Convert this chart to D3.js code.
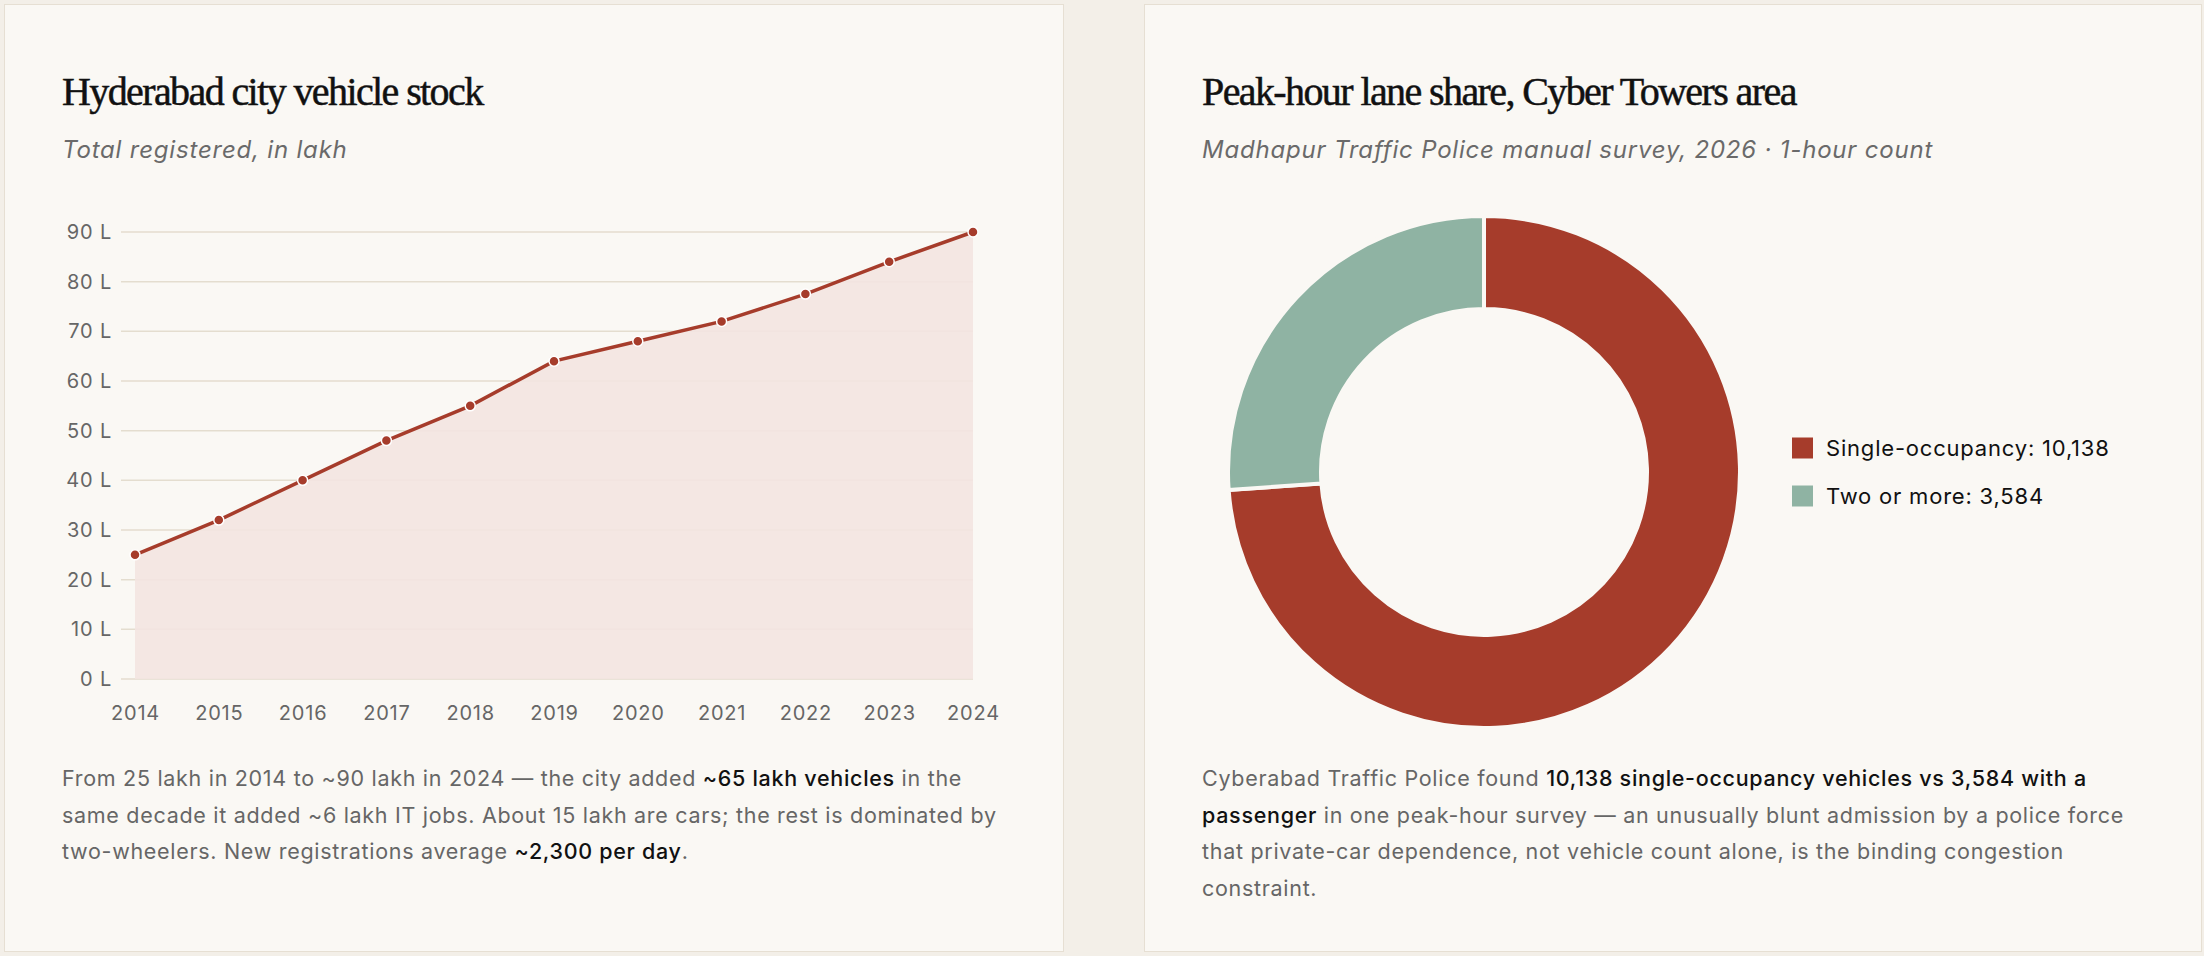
<!DOCTYPE html>
<html lang="en">
<head>
<meta charset="UTF-8">
<script src="https://d3js.org/d3.v7.min.js"></script>
<title>Hyderabad traffic</title>
<style>
    body { margin: 0; background: #f3efe8; font-family: Inter, "Noto Sans", sans-serif; }
    #page { position: relative; width: 2204px; height: 956px; }
    .card { position: absolute; top: 4px; height: 948px; background: #faf8f4; border: 1.5px solid #e6dfd3; box-sizing: border-box; }
    .note { position: absolute; font-size: 21.5px; line-height: 36.5px; color: #666; letter-spacing: 0.7px; }
    .note b { font-weight: 500; color: #111; }
    svg { position: absolute; left: 0; top: 0; }
</style>
</head>
<body>
<div id="page">
    <div class="card" style="left:4px;width:1060px"></div>
    <div class="card" style="left:1144px;width:1058px"></div>
    <svg id="chart" width="2204" height="956"></svg>
    <div class="note" style="left:62px;top:760px;width:950px">From 25 lakh in 2014 to ~90 lakh in 2024 — the city added <b>~65 lakh vehicles</b> in the same decade it added ~6 lakh IT jobs. About 15 lakh are cars; the rest is dominated by two-wheelers. New registrations average <b>~2,300 per day</b>.</div>
    <div class="note" style="left:1202px;top:760px;width:955px">Cyberabad Traffic Police found <b>10,138 single-occupancy vehicles vs 3,584 with a passenger</b> in one peak-hour survey — an unusually blunt admission by a police force that private-car dependence, not vehicle count alone, is the binding congestion constraint.</div>
</div>
<script>
    // vehicle stock, lakh
    var years = [2014, 2015, 2016, 2017, 2018, 2019, 2020, 2021, 2022, 2023, 2024]
    var stock = [25, 32, 40, 48, 55, 64, 68, 72, 77.5, 84, 90]
    var yTicks = [0, 10, 20, 30, 40, 50, 60, 70, 80, 90]

    // lane share survey
    var laneLabels = ["Single-occupancy", "Two or more"]
    var laneCounts = [10138, 3584]
    var laneColors = ["#a63c2b", "#8fb3a3"]

    var red = "#a63c2b"
    var svg = d3.select("#chart")

    function heading(x, title, sub) {
        svg.append("text").attr("x", x).attr("y", 105)
            .attr("font-family", "'Liberation Serif', serif").attr("font-size", 40)
            .attr("letter-spacing", -1.6).attr("fill", "#111")
            .attr("stroke", "#111").attr("stroke-width", 0.5).text(title)
        svg.append("text").attr("x", x).attr("y", 158)
            .attr("font-size", 24).attr("font-style", "italic").attr("letter-spacing", 0.8)
            .attr("fill", "#6a6a6a").text(sub)
    }

    heading(62, "Hyderabad city vehicle stock", "Total registered, in lakh")
    heading(1202, "Peak-hour lane share, Cyber Towers area", "Madhapur Traffic Police manual survey, 2026 \u00b7 1-hour count")

    // line chart
    var data = years.map((y, i) => ({ year: y, value: stock[i] }))
    var x = d3.scaleLinear().domain([2014, 2024]).range([135, 973])
    var y = d3.scaleLinear().domain([0, 90]).range([679, 232])

    svg.append("g").selectAll("line").data(yTicks).join("line")
        .attr("x1", 121).attr("x2", 973)
        .attr("y1", d => y(d)).attr("y2", d => y(d))
        .attr("stroke", "#e4ddcf").attr("stroke-width", 1.5)

    svg.append("g").attr("transform", "translate(121,0)")
        .call(d3.axisLeft(y).tickValues(yTicks).tickFormat(d => d + " L").tickSize(0).tickPadding(9))
        .call(g => g.select(".domain").remove())
        .call(g => g.selectAll("text").attr("font-size", 20).attr("letter-spacing", 0.8).attr("fill", "#666").attr("font-family", "Inter"))

    svg.append("g").attr("transform", "translate(0,700)")
        .call(d3.axisBottom(x).tickValues(years).tickFormat(d3.format("d")).tickSize(0).tickPadding(6))
        .call(g => g.select(".domain").remove())
        .call(g => g.selectAll("text").attr("font-size", 20).attr("letter-spacing", 0.8).attr("fill", "#666").attr("font-family", "Inter"))

    svg.append("path").datum(data)
        .attr("fill", "#f3e4e1").attr("opacity", 0.9)
        .attr("d", d3.area().x(d => x(d.year)).y0(y(0)).y1(d => y(d.value)))

    svg.append("path").datum(data)
        .attr("fill", "none").attr("stroke", red).attr("stroke-width", 3.5)
        .attr("d", d3.line().x(d => x(d.year)).y(d => y(d.value)))

    svg.append("g").selectAll("circle").data(data).join("circle")
        .attr("cx", d => x(d.year)).attr("cy", d => y(d.value)).attr("r", 5)
        .attr("fill", red).attr("stroke", "#fff").attr("stroke-width", 1.5)

    // donut
    var pie = d3.pie().sort(null).value(d => d)
    var arc = d3.arc().innerRadius(163).outerRadius(256)
    var donut = svg.append("g").attr("transform", "translate(1484,472)")
    donut.selectAll("path").data(pie(laneCounts)).join("path")
        .attr("d", arc).attr("fill", (d, i) => laneColors[i])
        .attr("stroke", "#faf8f4").attr("stroke-width", 4)

    var legend = svg.append("g").attr("transform", "translate(1792,448)")
    var rows = legend.selectAll("g").data(laneLabels).join("g")
        .attr("transform", (d, i) => `translate(0,${i * 48})`)
    rows.append("rect").attr("x", 0).attr("y", -10.5).attr("width", 21).attr("height", 21)
        .attr("fill", (d, i) => laneColors[i])
    rows.append("text").attr("x", 34).attr("dy", "0.35em").attr("font-size", 22)
        .attr("letter-spacing", 0.8).attr("fill", "#111")
        .text((d, i) => d + ": " + d3.format(",")(laneCounts[i]))
</script>
</body>
</html>
